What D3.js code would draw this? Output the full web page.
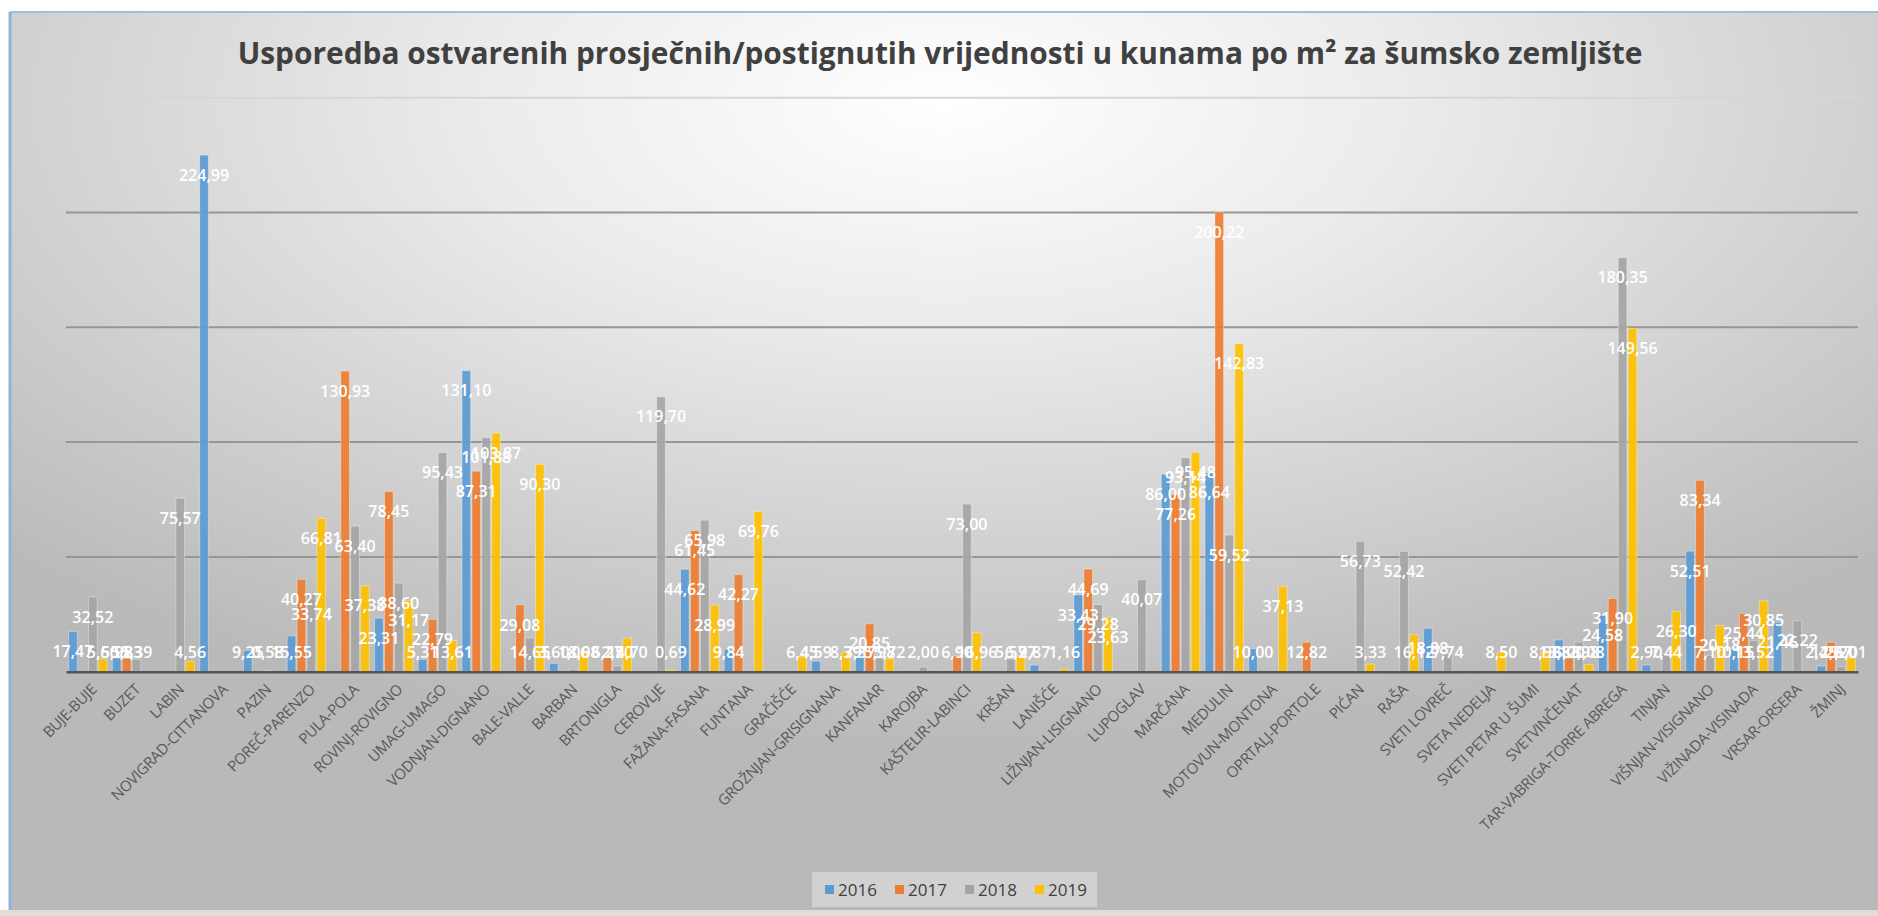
<!DOCTYPE html>
<html>
<head>
<meta charset="utf-8">
<script src="https://cdnjs.cloudflare.com/ajax/libs/d3/7.8.5/d3.min.js"></script>
<style>
  body { margin: 0; background: #ffffff; }
  svg { display: block; }
</style>
</head>
<body>
<div id="chart"></div>
<script>
// podaci - opcine i prosjecne vrijednosti po godinama
var categories = ["BUJE-BUJE", "BUZET", "LABIN", "NOVIGRAD-CITTANOVA", "PAZIN", "POREČ-PARENZO", "PULA-POLA",
    "ROVINJ-ROVIGNO", "UMAG-UMAGO", "VODNJAN-DIGNANO", "BALE-VALLE", "BARBAN", "BRTONIGLA", "CEROVLJE",
    "FAŽANA-FASANA", "FUNTANA", "GRAČIŠĆE", "GROŽNJAN-GRISIGNANA", "KANFANAR", "KAROJBA", "KAŠTELIR-LABINCI",
    "KRŠAN", "LANIŠĆE", "LIŽNJAN-LISIGNANO", "LUPOGLAV", "MARČANA", "MEDULIN", "MOTOVUN-MONTONA",
    "OPRTALJ-PORTOLE", "PIĆAN", "RAŠA", "SVETI LOVREČ", "SVETA NEDELJA", "SVETI PETAR U ŠUMI", "SVETVINČENAT",
    "TAR-VABRIGA-TORRE ABREGA", "TINJAN", "VIŠNJAN-VISIGNANO", "VIŽINADA-VISINADA", "VRSAR-ORSERA", "ŽMINJ"];

var years = ["2016", "2017", "2018", "2019"];

var v2016 = [17.47, 5.98, null, 224.99, 9.25, 15.55, null, 23.31, 5.31, 131.10, null, 3.60, null, null, 44.62, 9.84,
    null, 4.59, 7.37, null, null, null, 2.87, 33.43, null, 86.00, 86.64, 10.00, null, null, null, 18.88, null, null,
    13.83, 24.58, 2.90, 52.51, 10.15, 21.46, 2.45];
var v2017 = [null, 5.83, null, null, null, 40.27, 130.93, 78.45, 22.79, 87.31, 29.08, null, 6.27, null, 61.45, 42.27,
    null, null, 20.85, null, 6.90, null, null, 44.69, null, 77.26, 200.22, null, 12.82, null, null, null, null, null,
    6.00, 31.90, null, 83.34, 25.44, null, 12.87];
var v2018 = [32.52, 5.39, 75.57, null, 0.58, 33.74, 63.40, 38.60, 95.43, 101.88, 14.65, 1.06, 2.50, 119.70, 65.98, null,
    null, null, 5.98, 2.00, 73.00, 5.57, null, 29.28, 40.07, 93.14, 59.52, null, null, 56.73, 52.42, 7.74, null, null,
    12.98, 180.35, 7.44, 7.10, 13.52, 22.22, 2.20];
var v2019 = [5.60, null, 4.56, null, null, 66.81, 37.38, 31.17, 13.61, 103.87, 90.30, 8.08, 14.70, 0.69, 28.99, 69.76,
    6.45, 8.39, 5.72, null, 16.96, 6.97, 1.16, 23.63, null, 95.48, 142.83, 37.13, null, 3.33, 16.12, null, 8.50, 8.98,
    3.08, 149.56, 26.30, 20.18, 30.85, null, 6.01];

var yTicks = [0, 50, 100, 150, 200, 250];
var colors = ["#5b9bd5", "#ed7d31", "#a5a5a5", "#ffc000"];

var W = 1878, H = 916;
var plot = {left: 66, right: 1858, top: 97.7, bottom: 671.7};

var seriesValues = [v2016, v2017, v2018, v2019];
var rows = [];
categories.forEach(function (c, i) {
    seriesValues.forEach(function (s, j) {
        if (s[i] !== null) rows.push({cat: c, year: years[j], value: s[i], color: colors[j]});
    });
});

var svg = d3.select("#chart").append("svg")
    .attr("width", W)
    .attr("height", H);

var defs = svg.append("defs");
var grad = defs.append("radialGradient")
    .attr("id", "bg")
    .attr("cx", "50%").attr("cy", "10%").attr("r", "72%")
    .attr("gradientUnits", "objectBoundingBox");
grad.append("stop").attr("offset", "0%").attr("stop-color", "#ffffff");
grad.append("stop").attr("offset", "35%").attr("stop-color", "#ebebeb");
grad.append("stop").attr("offset", "100%").attr("stop-color", "#b9b9b9");

// okvir grafikona
svg.append("rect").attr("x", 0).attr("y", 0).attr("width", W).attr("height", H).attr("fill", "#ffffff");
svg.append("rect").attr("x", 0).attr("y", 910).attr("width", W).attr("height", 6).attr("fill", "#e4dbd3");
svg.append("rect")
    .attr("x", 10).attr("y", 12).attr("width", W - 10).attr("height", 898)
    .attr("fill", "url(#bg)");
svg.append("line").attr("x1", 10).attr("x2", W).attr("y1", 12).attr("y2", 12)
    .attr("stroke", "#9fbfe0").attr("stroke-width", 2);
svg.append("line").attr("x1", 10).attr("x2", 10).attr("y1", 12).attr("y2", 910)
    .attr("stroke", "#8fb4dc").attr("stroke-width", 3);

var x0 = d3.scaleBand()
    .domain(categories)
    .range([plot.left, plot.right])
    .paddingInner(0.12)
    .paddingOuter(0.06);

var x1 = d3.scaleBand()
    .domain(years)
    .range([0, x0.bandwidth()])
    .paddingInner(0.13);

var y = d3.scaleLinear()
    .domain([0, 250])
    .range([plot.bottom, plot.top]);

// mreza
svg.append("g")
    .selectAll("line")
    .data(yTicks.slice(1))
    .enter()
    .append("line")
    .attr("x1", plot.left)
    .attr("x2", plot.right)
    .attr("y1", function (d) { return y(d); })
    .attr("y2", function (d) { return y(d); })
    .attr("stroke", function (d) { return d === 250 ? "#d6d6d6" : "#969696"; })
    .attr("stroke-width", 2);

svg.append("g")
    .selectAll("rect")
    .data(rows)
    .enter()
    .append("rect")
    .attr("x", function (d) { return x0(d.cat) + x1(d.year); })
    .attr("y", function (d) { return y(d.value); })
    .attr("width", x1.bandwidth())
    .attr("height", function (d) { return y(0) - y(d.value); })
    .attr("fill", function (d) { return d.color; })
    .attr("fill-opacity", 0.92)
    .attr("stroke", "rgba(255,255,255,0.35)")
    .attr("stroke-width", 1);

// os x
var xAxis = d3.axisBottom(x0).tickSize(0).tickPadding(0);
var gx = svg.append("g")
    .attr("transform", "translate(0," + y(0) + ")")
    .call(xAxis);
gx.select(".domain")
    .attr("stroke", "#555555")
    .attr("stroke-width", 2.5);
gx.selectAll(".tick text")
    .attr("transform", "translate(6,15) rotate(-45)")
    .attr("text-anchor", "end")
    .attr("dy", "0.35em")
    .attr("y", 0)
    .attr("font-family", "'Open Sans', sans-serif")
    .attr("font-size", 15)
    .attr("letter-spacing", -0.3)
    .attr("fill", "#595959");

// oznake vrijednosti
var fmt = d3.format(".2f");
svg.append("g")
    .selectAll("text")
    .data(rows)
    .enter()
    .append("text")
    .attr("x", function (d) { return x0(d.cat) + x1(d.year) + x1.bandwidth() / 2; })
    .attr("y", function (d) { return Math.min(y(d.value) + 20, y(0) - 19); })
    .attr("dy", "0.35em")
    .attr("text-anchor", "middle")
    .attr("font-family", "'Open Sans', sans-serif")
    .attr("font-weight", 600)
    .attr("font-size", 16)
    .attr("fill", "#ffffff")
    .text(function (d) { return fmt(d.value).replace(".", ","); });

// naslov
var title = svg.append("text")
    .attr("x", 940)
    .attr("y", 54)
    .attr("dy", "0.35em")
    .attr("text-anchor", "middle")
    .attr("font-family", "'Open Sans', sans-serif")
    .attr("font-weight", 700)
    .attr("font-size", 30)
    .attr("fill", "#404040")
    .text("Usporedba ostvarenih prosječnih/postignutih vrijednosti u kunama po m² za šumsko zemljište");
var tw = title.node().getComputedTextLength();
title.attr("font-size", 30 * 1405 / tw);

// legenda
var legend = svg.append("g").attr("transform", "translate(812,872)");
legend.append("rect")
    .attr("width", 285).attr("height", 35)
    .attr("fill", "#ffffff").attr("fill-opacity", 0.35);
var item = legend.selectAll("g.item")
    .data(years)
    .enter()
    .append("g")
    .attr("class", "item")
    .attr("transform", function (d, i) { return "translate(" + (13 + i * 70) + ",0)"; });
item.append("rect")
    .attr("x", 0).attr("y", 13)
    .attr("width", 9).attr("height", 9)
    .attr("fill", function (d, i) { return colors[i]; });
item.append("text")
    .attr("x", 13).attr("y", 18)
    .attr("dy", "0.35em")
    .attr("font-family", "'Open Sans', sans-serif")
    .attr("font-size", 17)
    .attr("fill", "#404040")
    .text(function (d) { return d; });
</script>
</body>
</html>
